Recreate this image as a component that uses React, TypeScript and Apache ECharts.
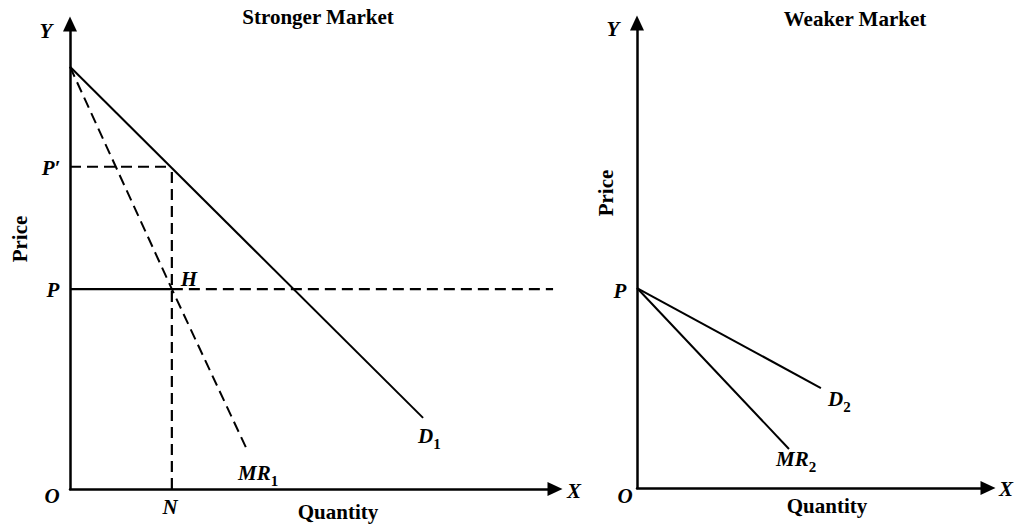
import React, { useEffect, useRef } from "react";
import * as echarts from "echarts";

// ---- Data ----
// Stronger market (left panel), axes 0..100
const D1: number[][] = [[0, 90.8], [72.8, 15.3]];
const MR1: number[][] = [[0, 90.8], [21, 43], [36.7, 8]];
const P_LEVEL = 43;
const P_PRIME_LEVEL = 69.3;
const N_QTY = 21;
const P_DASH_END = 99.6;
// Weaker market (right panel)
const P_WEAK = 43;
const D2: number[][] = [[0, P_WEAK], [52.4, 21.5]];
const MR2: number[][] = [[0, P_WEAK], [43.3, 8.4]];

const TITLES = ["Stronger Market", "Weaker Market"];
const AXIS_X_NAME = "Quantity";
const AXIS_Y_NAME = "Price";

const SERIF = "Liberation Serif";

function lineSeries(name: string, data: number[][], idx: number, dashed: boolean, width = 2) {
  return {
    name,
    type: "line",
    xAxisIndex: idx,
    yAxisIndex: idx,
    data,
    showSymbol: false,
    symbol: "none",
    silent: true,
    lineStyle: { color: "#000", width, type: dashed ? [11, 6] : "solid" },
  };
}

function txt(text: string, x: number, y: number, opts: any = {}) {
  return {
    type: "text",
    x,
    y,
    rotation: opts.rotation || 0,
    style: {
      text,
      fill: "#000",
      fontFamily: SERIF,
      fontWeight: "bold",
      fontStyle: opts.italic ? "italic" : "normal",
      fontSize: opts.size || 21,
      align: "center",
      verticalAlign: "middle",
    },
  };
}

function subLabel(main: string, sub: string, x: number, y: number) {
  return {
    type: "text",
    x,
    y,
    style: {
      text: `{m|${main}}{s|${sub}}`,
      fill: "#000",
      align: "left",
      verticalAlign: "top",
      rich: {
        m: {
          fontFamily: SERIF, fontWeight: "bold", fontStyle: "italic", fontSize: 21,
          lineHeight: 22, verticalAlign: "top", fill: "#000",
        },
        s: { fontFamily: SERIF, fontWeight: "bold", fontSize: 15, lineHeight: 38, fill: "#000" },
      },
    },
  };
}

function axisBase(gridIndex: number) {
  return {
    type: "value",
    gridIndex,
    min: 0,
    max: 100,
    axisLabel: { show: false },
    axisTick: { show: false },
    splitLine: { show: false },
    axisLine: {
      show: true,
      onZero: false,
      symbol: ["none", "triangle"],
      symbolSize: [14, 15],
      lineStyle: { color: "#000", width: 2.5 },
    },
  };
}

export default function App() {
  const ref = useRef<HTMLDivElement>(null);
  useEffect(() => {
    if (!ref.current) return;
    const chart = echarts.init(ref.current, undefined, { renderer: "svg" });
    chart.setOption({
      animation: false,
      backgroundColor: "#fff",
      grid: [
        { left: 70, top: 24, width: 485, height: 465 },
        { left: 637, top: 23, width: 351, height: 465 },
      ],
      xAxis: [axisBase(0), axisBase(1)],
      yAxis: [axisBase(0), axisBase(1)],
      series: [
        lineSeries("D1", D1, 0, false),
        lineSeries("MR1", MR1, 0, true),
        lineSeries("P'", [[0, P_PRIME_LEVEL], [N_QTY, P_PRIME_LEVEL]], 0, true),
        lineSeries("N", [[N_QTY, 0], [N_QTY, P_PRIME_LEVEL]], 0, true, 2.2),
        lineSeries("P", [[0, P_LEVEL], [N_QTY, P_LEVEL]], 0, false, 2.2),
        lineSeries("P ext", [[N_QTY, P_LEVEL], [P_DASH_END, P_LEVEL]], 0, true, 2.2),
        lineSeries("D2", D2, 1, false),
        lineSeries("MR2", MR2, 1, false),
      ],
      graphic: [
        txt(TITLES[0], 318, 17, { size: 21 }),
        txt(TITLES[1], 855, 19, { size: 21 }),
        txt(AXIS_X_NAME, 338, 512),
        txt(AXIS_X_NAME, 827, 506),
        txt(AXIS_Y_NAME, 20, 239, { rotation: Math.PI / 2 }),
        txt(AXIS_Y_NAME, 606, 193, { rotation: Math.PI / 2 }),
        txt("Y", 46, 31, { italic: true }),
        txt("Y", 613, 29, { italic: true }),
        txt("X", 574, 491, { italic: true }),
        txt("X", 1006, 489, { italic: true }),
        txt("O", 52, 496, { italic: true }),
        txt("O", 625, 496, { italic: true }),
        txt("N", 170, 507, { italic: true }),
        txt("P\u2032", 51, 168, { italic: true }),
        txt("P", 53, 290, { italic: true }),
        txt("P", 620, 291, { italic: true }),
        txt("H", 189, 279, { italic: true }),
        subLabel("MR", "1", 238, 462),
        subLabel("D", "1", 418, 425),
        subLabel("D", "2", 828, 388),
        subLabel("MR", "2", 776, 448),
      ],
    });
    return () => chart.dispose();
  }, []);
  return (
    <div
      ref={ref}
      style={{ position: "fixed", left: 0, top: 0, width: 1017, height: 528, background: "#fff" }}
    />
  );
}
